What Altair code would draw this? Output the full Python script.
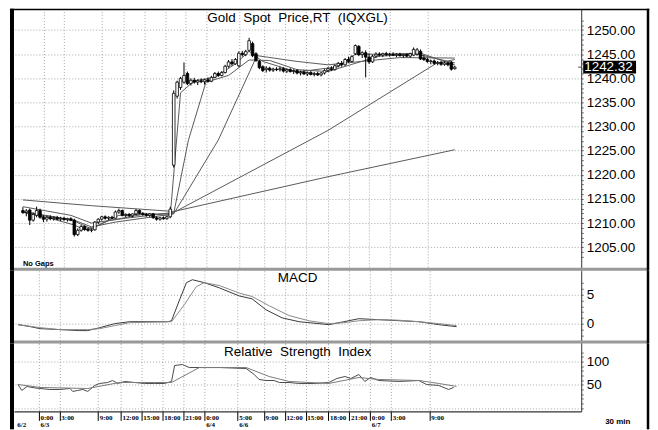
import altair as alt
import pandas as pd

# ---------------- data ----------------
bars = list(range(127))
opens = [1212.6, 1212.2, 1212.7, 1210.6, 1211.6, 1212.6, 1211.2, 1210.8, 1211.2, 1210.9,
         1211.1, 1210.8, 1211.0, 1210.7, 1210.9, 1210.6, 1207.6, 1208.5, 1209.3, 1208.7,
         1208.5, 1208.6, 1210.2, 1210.8, 1211.3, 1211.0, 1211.2, 1211.0, 1212.3, 1212.6,
         1211.6, 1211.8, 1211.5, 1211.9, 1212.6, 1212.0, 1211.8, 1211.6, 1211.9, 1211.1,
         1210.8, 1211.1, 1210.9, 1211.3, 1222.0, 1236.3, 1238.1, 1239.2, 1241.0, 1238.9,
         1239.6, 1239.2, 1239.5, 1239.3, 1239.7, 1239.4, 1240.2, 1241.0, 1240.6, 1241.2,
         1242.5, 1243.4, 1243.0, 1242.6, 1245.2, 1244.9, 1245.8, 1247.2, 1245.1, 1243.5,
         1242.4, 1241.8, 1242.1, 1241.7, 1241.9, 1241.8, 1242.0, 1241.5, 1241.8, 1241.4,
         1241.6, 1241.1, 1241.3, 1240.9, 1241.2, 1240.8, 1241.0, 1240.7, 1241.1, 1241.6,
         1242.0, 1241.8, 1242.6, 1243.1, 1242.8, 1243.9, 1243.5, 1245.1, 1246.6, 1244.9,
         1245.3, 1244.4, 1243.4, 1244.6, 1245.0, 1244.8, 1245.1, 1244.9, 1245.0, 1244.8,
         1245.0, 1244.7, 1244.9, 1244.6, 1244.8, 1245.0, 1245.6, 1244.2, 1243.9, 1243.5,
         1243.6, 1243.1, 1243.3, 1242.9, 1243.2, 1243.3, 1242.0]
highs = [1213.3, 1212.9, 1213.0, 1212.2, 1213.4, 1213.0, 1211.6, 1211.5, 1211.6, 1211.4,
         1211.5, 1211.3, 1211.3, 1211.1, 1211.2, 1210.9, 1208.9, 1209.6, 1209.5, 1209.0,
         1208.9, 1210.4, 1211.0, 1211.5, 1211.6, 1211.4, 1211.5, 1212.6, 1213.0, 1212.8,
         1212.0, 1212.1, 1212.0, 1212.9, 1212.8, 1212.3, 1212.1, 1212.0, 1212.1, 1211.4,
         1211.3, 1211.4, 1211.5, 1213.4, 1237.5, 1239.5, 1240.3, 1243.3, 1241.4, 1240.0,
         1240.1, 1239.8, 1240.0, 1239.9, 1240.2, 1240.5, 1241.3, 1241.4, 1241.5, 1242.8,
         1243.8, 1244.0, 1244.2, 1245.6, 1245.7, 1245.9, 1248.4, 1247.6, 1245.4, 1243.8,
         1242.7, 1242.5, 1242.4, 1242.2, 1242.3, 1242.4, 1242.3, 1242.0, 1242.1, 1241.9,
         1241.9, 1241.6, 1241.7, 1241.4, 1241.5, 1241.3, 1241.4, 1241.3, 1241.9, 1242.3,
         1242.5, 1242.9, 1243.4, 1243.6, 1244.2, 1244.5, 1244.8, 1247.0, 1246.9, 1245.6,
         1245.8, 1245.2, 1244.9, 1245.4, 1245.4, 1245.3, 1245.5, 1245.3, 1245.4, 1245.2,
         1245.3, 1245.1, 1245.2, 1245.3, 1246.4, 1246.3, 1246.0, 1244.8, 1244.3, 1243.9,
         1243.9, 1243.6, 1243.6, 1243.5, 1243.4, 1243.6, 1242.6]
lows = [1211.9, 1211.4, 1209.6, 1210.3, 1211.2, 1210.9, 1210.2, 1210.3, 1210.6, 1210.5,
        1210.6, 1210.4, 1210.5, 1210.3, 1210.4, 1207.2, 1207.3, 1208.2, 1208.4, 1208.2,
        1208.1, 1208.4, 1209.8, 1210.5, 1210.7, 1210.6, 1210.8, 1210.9, 1211.9, 1211.4,
        1211.2, 1211.3, 1211.2, 1211.7, 1211.8, 1211.5, 1211.3, 1211.2, 1210.9, 1210.5,
        1210.5, 1210.7, 1210.7, 1211.0, 1221.5, 1235.8, 1237.6, 1238.9, 1238.6, 1238.5,
        1238.9, 1238.6, 1239.0, 1238.7, 1239.1, 1239.2, 1240.0, 1240.3, 1240.4, 1241.0,
        1242.2, 1242.6, 1242.8, 1242.3, 1244.5, 1244.6, 1245.5, 1244.4, 1243.4, 1241.9,
        1241.3, 1241.2, 1241.4, 1241.3, 1241.5, 1241.4, 1241.2, 1241.1, 1241.2, 1240.9,
        1240.8, 1240.6, 1240.7, 1240.5, 1240.6, 1240.4, 1240.5, 1240.4, 1240.8, 1241.3,
        1241.5, 1241.6, 1242.3, 1242.4, 1242.6, 1243.2, 1243.3, 1244.8, 1244.6, 1244.2,
        1240.2, 1243.0, 1243.2, 1244.2, 1244.5, 1244.4, 1244.6, 1244.5, 1244.6, 1244.4,
        1244.5, 1244.3, 1244.4, 1244.3, 1244.6, 1244.7, 1243.8, 1243.6, 1243.2, 1242.9,
        1242.8, 1242.7, 1242.6, 1242.6, 1242.5, 1241.6, 1241.8]
closes = [1212.2, 1212.5, 1210.6, 1211.8, 1212.6, 1211.2, 1210.8, 1211.2, 1210.9, 1211.1,
          1210.8, 1211.0, 1210.7, 1210.9, 1210.6, 1207.6, 1208.5, 1209.3, 1208.7, 1208.5,
          1208.6, 1210.2, 1210.8, 1211.3, 1211.0, 1211.2, 1211.0, 1212.3, 1212.6, 1211.6,
          1211.8, 1211.5, 1211.9, 1212.6, 1212.0, 1211.8, 1211.6, 1211.9, 1211.1, 1210.8,
          1211.1, 1210.9, 1211.3, 1212.9, 1236.9, 1239.2, 1240.0, 1240.6, 1238.9, 1239.6,
          1239.2, 1239.5, 1239.3, 1239.7, 1239.4, 1240.2, 1241.0, 1240.6, 1241.2, 1242.5,
          1243.4, 1243.0, 1243.9, 1245.2, 1244.9, 1245.6, 1247.8, 1244.7, 1243.7, 1242.2,
          1241.6, 1242.1, 1241.7, 1241.9, 1241.8, 1242.0, 1241.5, 1241.8, 1241.4, 1241.6,
          1241.1, 1241.3, 1240.9, 1241.2, 1240.8, 1241.0, 1240.7, 1241.1, 1241.6, 1242.0,
          1241.8, 1242.6, 1243.1, 1242.8, 1243.9, 1243.5, 1244.5, 1246.8, 1244.9, 1245.3,
          1244.4, 1243.4, 1244.6, 1245.0, 1244.8, 1245.1, 1244.9, 1245.0, 1244.8, 1245.0,
          1244.7, 1244.9, 1244.6, 1245.1, 1246.0, 1245.9, 1244.0, 1243.9, 1243.5, 1243.6,
          1243.1, 1243.3, 1242.9, 1243.2, 1242.8, 1241.9, 1242.32]

# moving averages (vertices)
ma1_bar = [0, 20, 44, 89, 126]
ma1_val = [1214.8, 1213.6, 1212.4, 1219.6, 1225.2]
ma2_bar = [0, 14, 20, 30, 44, 89, 120.6, 126]
ma2_val = [1213.4, 1211.6, 1210.0, 1211.0, 1212.2, 1229.2, 1243.1, 1243.9]
ma3_bar = [0, 15, 20, 27, 44, 57, 68.3, 80, 89, 100, 110, 126]
ma3_val = [1212.2, 1210.6, 1209.2, 1210.2, 1211.9, 1227.2, 1244.7, 1243.5, 1242.8, 1243.6, 1244.3, 1244.2]
ma4_bar = [0, 10, 15, 20, 25, 35, 44, 48.3, 53.4, 60, 66, 72, 80, 89, 96, 104, 115, 126]
ma4_val = [1212.4, 1211.2, 1210.4, 1208.8, 1210.5, 1211.8, 1212.0, 1227.2, 1239.2, 1240.6,
           1243.8, 1243.7, 1241.8, 1241.4, 1242.9, 1244.6, 1245.0, 1243.2]
ma5_bar = [0, 8, 15, 18, 22, 28, 36, 43, 46, 50, 56, 62, 66, 70, 80, 92, 97, 105, 116, 126]
ma5_val = [1212.3, 1211.0, 1209.6, 1208.6, 1209.6, 1211.6, 1211.9, 1211.6, 1237.0, 1239.5,
           1240.2, 1243.0, 1245.6, 1243.5, 1241.3, 1242.4, 1245.0, 1245.0, 1245.2, 1242.8]

macd_bar = [0, 3.4, 6.3, 12, 17.7, 20, 23.4, 27.7, 32, 42.9, 44, 46.3, 48.3, 50, 53.4, 57.7,
            63.4, 67.1, 71.1, 75.7, 80.6, 89.1, 93.4, 97.7, 103.4, 109.1, 114.9, 120.6, 125.7]
macd_val = [-0.17, -0.5, -0.86, -1.03, -1.2, -1.2, -0.7, 0.0, 0.34, 0.34, 0.5, 4.1, 7.1, 7.6,
            7.1, 6.2, 4.8, 4.3, 2.4, 1.0, 0.34, -0.17, 0.34, 0.86, 0.69, 0.52, 0.34, -0.17, -0.52]
signal_bar = [0, 6.3, 12, 20, 23.4, 27.7, 32, 42.9, 44, 47.7, 51.1, 53.4, 57.7, 63.4, 67.1, 72,
              77.7, 83.4, 89.1, 93.4, 97.7, 103.4, 109.1, 114.9, 120.6, 125.7]
signal_val = [-0.17, -0.69, -1.03, -1.03, -0.86, -0.34, 0.17, 0.34, 0.34, 3.3, 6.4, 7.1, 6.6,
              5.3, 4.7, 3.1, 1.4, 0.5, 0.0, 0.17, 0.5, 0.69, 0.6, 0.34, 0.0, -0.34]

rsi_bar = [0, 1.1, 2.6, 4, 6.3, 9.1, 12, 14.9, 15.7, 17.1, 18.6, 20, 22, 23.4, 25.7, 27.1, 28.6,
           30.6, 33.4, 36.3, 39.1, 42, 44, 44.9, 47.1, 49.1, 52, 57.7, 65.4, 67.7, 69.1, 71.1,
           73.4, 74.9, 77.7, 80.6, 84.9, 89.1, 91.4, 93.7, 95.4, 97.7, 99.4, 101.1, 103.4,
           109.1, 114.9, 117.1, 120.6, 123.4, 124.9]
rsi_val = [50.6, 37.8, 46.4, 44.2, 42.0, 39.9, 39.9, 42.0, 35.6, 37.8, 39.9, 35.6, 48.5, 52.8,
           54.9, 59.2, 52.8, 57.1, 54.9, 52.8, 52.8, 52.8, 57.1, 91.4, 93.6, 87.1, 87.1, 87.1,
           85.0, 72.1, 61.4, 59.2, 59.2, 54.9, 54.9, 52.8, 52.8, 54.9, 63.5, 67.8, 63.5, 72.1,
           57.1, 65.7, 59.2, 57.1, 59.2, 50.6, 48.5, 39.9, 44.2]
rsi_avg_bar = [0, 6.3, 20, 29.1, 44, 52, 65.4, 72, 77.7, 89.1, 97.7, 103.4, 114.9, 120.6, 125.7]
rsi_avg_val = [50.6, 44.2, 42.0, 54.9, 54.9, 87.1, 87.1, 67.8, 57.1, 52.8, 65.7, 61.4, 59.2, 52.8, 46.4]

tick_pos = [6, 12, 23, 29.5, 35.5, 41.5, 47.5, 53.5, 63, 70.5, 76.5, 82.5, 89, 95, 101, 107, 118]
tick_time = ["0:00", "3:00", "9:00", "12:00", "15:00", "18:00", "21:00", "0:00", "5:00",
             "9:00", "12:00", "15:00", "18:00", "21:00", "0:00", "3:00", "9:00"]
date_pos = [-0.6, 6, 53.5, 63, 101]
date_text = ["6/2", "6/3", "6/4", "6/6", "6/7"]

last_price = [1242.32]

# ---------------- layout constants ----------------
W = 569
H_PRICE, H_MACD, H_RSI = 263, 73, 68
RIGHT_EDGE = 636
FONT = "Liberation Sans"
SMALL_FONT = "Liberation Sans Narrow"

price_df = pd.DataFrame({"bar": bars, "open": opens, "high": highs, "low": lows, "close": closes})

ma_rows = []
for name, bx, vy in [("ma1", ma1_bar, ma1_val), ("ma2", ma2_bar, ma2_val), ("ma3", ma3_bar, ma3_val),
                     ("ma4", ma4_bar, ma4_val), ("ma5", ma5_bar, ma5_val)]:
    for b, v in zip(bx, vy):
        ma_rows.append({"ma": name, "bar": b, "value": v})
ma_df = pd.DataFrame(ma_rows)

macd_df = pd.concat([
    pd.DataFrame({"series": "macd", "bar": macd_bar, "value": macd_val}),
    pd.DataFrame({"series": "signal", "bar": signal_bar, "value": signal_val}),
])
rsi_df = pd.concat([
    pd.DataFrame({"series": "rsi", "bar": rsi_bar, "value": rsi_val}),
    pd.DataFrame({"series": "avg", "bar": rsi_avg_bar, "value": rsi_avg_val}),
])
tick_df = pd.DataFrame({"bar": tick_pos, "label": tick_time})
date_df = pd.DataFrame({"bar": date_pos, "label": date_text})
one = pd.DataFrame({"a": [0]})

xscale = alt.Scale(domain=[-1.143, 161.43], nice=False, zero=False)
GRID = "#a8a8a8"

x_grid_axis = alt.Axis(values=tick_pos, labels=False, ticks=False, domain=False, grid=True,
                       gridColor=GRID, gridDash=[1, 2], title=None)
x_bottom_axis = alt.Axis(values=tick_pos, labels=False, ticks=True, tickSize=9, tickColor="black",
                         domain=True, domainColor="black", grid=True, gridColor=GRID,
                         gridDash=[1, 2], title=None)


def y_axis(values, major_test, label_expr):
    return alt.Axis(orient="right", values=values, labelExpr=label_expr, grid=True,
                    gridColor=GRID, gridDash=[1, 2],
                    gridOpacity={"condition": {"test": major_test, "value": 1}, "value": 0},
                    tickSize=2, tickColor="#666", domainColor="#333", labelFontSize=13.5,
                    labelFont=FONT, labelColor="black", labelPadding=3, labelOverlap=False,
                    title=None)


price_axis = y_axis(list(range(1203, 1253)), "datum.value % 5 === 0",
                    "datum.value % 5 === 0 ? format(datum.value, '.2f') : ''")
macd_axis = y_axis(list(range(-2, 8)), "datum.value % 5 === 0",
                   "datum.value % 5 === 0 ? format(datum.value, 'd') : ''")
rsi_axis = y_axis(list(range(10, 130, 10)) + [0], "datum.value % 50 === 0",
                  "datum.value === 50 || datum.value === 100 ? format(datum.value, 'd') : ''")

price_scale = alt.Scale(domain=[1200.10, 1254.44], nice=False, zero=False)
macd_scale = alt.Scale(domain=[-3.45, 9.14], nice=False, zero=False)
rsi_scale = alt.Scale(domain=[-7.3, 138.6], nice=False, zero=False)


def box(x1, x2, y1, y2, color):
    return alt.Chart(one).mark_rect(color=color).encode(
        x=alt.value(x1), x2=alt.value(x2), y=alt.value(y1), y2=alt.value(y2))


def frame(h, top=0):
    return [box(-4, 0, top, h, "black"), box(RIGHT_EDGE - 1.25, RIGHT_EDGE + 1.25, top, h, "black")]


def separator(h):
    return box(0, RIGHT_EDGE, h - 3, h, "#999999")


def title_text(txt, yv, size=13.5):
    return alt.Chart(pd.DataFrame({"t": [txt]})).mark_text(
        font=FONT, fontSize=size, color="black", baseline="middle", align="center").encode(
        x=alt.value(W / 2), y=alt.value(yv), text="t:N")


# ---------------- price panel ----------------
ma_lines = alt.Chart(ma_df).mark_line(color="#5a5a5a", strokeWidth=1).encode(
    x=alt.X("bar:Q", scale=xscale, axis=x_grid_axis),
    y=alt.Y("value:Q", scale=price_scale, axis=price_axis),
    detail="ma:N")
wicks = alt.Chart(price_df).mark_rule(color="black", strokeWidth=1).encode(
    x=alt.X("bar:Q", scale=xscale, axis=x_grid_axis),
    y=alt.Y("low:Q", scale=price_scale, axis=price_axis),
    y2="high:Q")
bodies = alt.Chart(price_df).mark_bar(size=2.6, stroke="black", strokeWidth=0.8).encode(
    x=alt.X("bar:Q", scale=xscale, axis=x_grid_axis),
    y=alt.Y("open:Q", scale=price_scale, axis=price_axis),
    y2="close:Q",
    color=alt.condition("datum.close >= datum.open", alt.value("white"), alt.value("black")))
last_df = pd.DataFrame({"p": last_price, "t": [f"{last_price[0]:.2f}"]})
last_box = alt.Chart(last_df).mark_rule(color="black", strokeWidth=13).encode(
    x=alt.value(571), x2=alt.value(624), y=alt.Y("p:Q", scale=price_scale, axis=price_axis))
last_mark = alt.Chart(last_df).mark_rule(color="#444", strokeWidth=1).encode(
    x=alt.value(566), x2=alt.value(569), y=alt.Y("p:Q", scale=price_scale, axis=price_axis))
last_txt = alt.Chart(last_df).mark_text(font=FONT, fontSize=13.5, color="white", align="left",
                                        baseline="middle").encode(
    x=alt.value(572), y=alt.Y("p:Q", scale=price_scale, axis=price_axis), text="t:N")
no_gaps = alt.Chart(pd.DataFrame({"t": ["No Gaps"]})).mark_text(
    font=FONT, fontSize=7.5, fontWeight="bold", color="black", align="left",
    baseline="alphabetic").encode(x=alt.value(9), y=alt.value(258.5), text="t:N")

price_panel = alt.layer(
    ma_lines, wicks, bodies, last_box, last_mark, last_txt,
    title_text("Gold\u00a0\u00a0Spot\u00a0\u00a0Price,RT\u00a0\u00a0(IQXGL)", 9),
    no_gaps, separator(H_PRICE), box(-4, RIGHT_EDGE + 1.25, 0, 1.5, "black"), *frame(H_PRICE)
).properties(width=W, height=H_PRICE)

# ---------------- MACD panel ----------------
macd_lines = alt.Chart(macd_df).mark_line(strokeWidth=1).encode(
    x=alt.X("bar:Q", scale=xscale, axis=x_grid_axis),
    y=alt.Y("value:Q", scale=macd_scale, axis=macd_axis),
    color=alt.Color("series:N", scale=alt.Scale(domain=["macd", "signal"],
                                                range=["#3a3a3a", "#8a8a8a"]), legend=None))
macd_panel = alt.layer(
    macd_lines, title_text("MACD", 7), separator(H_MACD), *frame(H_MACD)
).properties(width=W, height=H_MACD)

# ---------------- RSI panel ----------------
rsi_lines = alt.Chart(rsi_df).mark_line(strokeWidth=1).encode(
    x=alt.X("bar:Q", scale=xscale, axis=x_bottom_axis),
    y=alt.Y("value:Q", scale=rsi_scale, axis=rsi_axis),
    color=alt.Color("series:N", scale=alt.Scale(domain=["rsi", "avg"],
                                                range=["#4a4a4a", "#7a7a7a"]), legend=None))
time_labels = alt.Chart(tick_df).mark_text(
    font=SMALL_FONT, fontSize=7, fontWeight="bold", color="black", align="left",
    baseline="middle", dx=1.5).encode(
    x=alt.X("bar:Q", scale=xscale, axis=x_bottom_axis), y=alt.value(H_RSI + 7), text="label:N")
date_labels = alt.Chart(date_df).mark_text(
    font=SMALL_FONT, fontSize=7, fontWeight="bold", color="black", align="left",
    baseline="middle", dx=1.5).encode(
    x=alt.X("bar:Q", scale=xscale, axis=x_bottom_axis), y=alt.value(H_RSI + 13.5), text="label:N")
min_label = alt.Chart(pd.DataFrame({"t": ["30  min"]})).mark_text(
    font=FONT, fontSize=8, fontWeight="bold", color="black", align="left",
    baseline="middle").encode(x=alt.value(593), y=alt.value(H_RSI + 10.5), text="t:N")
rsi_panel = alt.layer(
    rsi_lines, time_labels, date_labels, min_label,
    title_text("Relative\u00a0\u00a0Strength\u00a0\u00a0Index", 8),
    *frame(H_RSI + 18)
).properties(width=W, height=H_RSI)

chart = alt.vconcat(price_panel, macd_panel, rsi_panel, spacing=0, bounds="flush").properties(
    padding={"left": 2, "top": 0, "right": 0, "bottom": 0},
    background="white",
).configure_view(strokeWidth=0).resolve_scale(color="independent")

chart.save("out.html", embed_options={"renderer": "svg", "actions": False})
